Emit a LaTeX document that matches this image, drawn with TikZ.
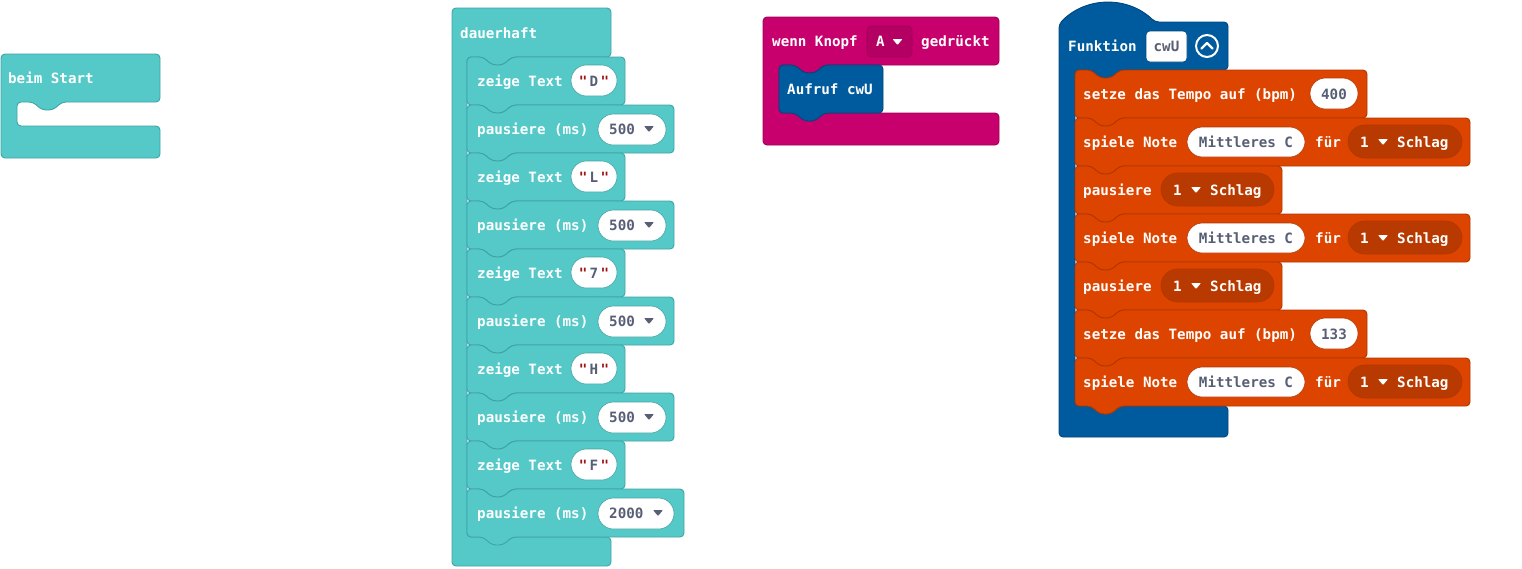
\documentclass[tikz,border=0pt]{standalone}
\usepackage{fontspec}
\newfontfamily\blockfont{DejaVu Sans Mono}

\definecolor{basic}{HTML}{55C8C8}
\definecolor{basicline}{HTML}{3FA4A4}
\definecolor{input}{HTML}{C8006E}
\definecolor{inputline}{HTML}{9E0057}
\definecolor{inputdark}{HTML}{B30062}
\definecolor{func}{HTML}{005A9E}
\definecolor{funcline}{HTML}{00467C}
\definecolor{music}{HTML}{DD4400}
\definecolor{musicline}{HTML}{B23700}
\definecolor{musicdark}{HTML}{B93A00}
\definecolor{fieldtext}{HTML}{575E75}
\definecolor{quotered}{HTML}{A31515}

\tikzset{
  blk/.style={line width=0.9pt, rounded corners=4pt, line join=round},
  basicblk/.style={blk, fill=basic, draw=basicline},
  inputblk/.style={blk, fill=input, draw=inputline},
  funcblk/.style={blk, fill=func, draw=funcline},
  musicblk/.style={blk, fill=music, draw=musicline},
  blkfont/.style={font=\blockfont\bfseries\fontsize{14.2}{16}\selectfont},
  lbl/.style={blkfont, anchor=base west, inner sep=0pt, text=white},
  fld/.style={blkfont, anchor=base, inner sep=0pt, text=fieldtext},
  fldw/.style={blkfont, anchor=base west, inner sep=0pt, text=fieldtext},
  oval/.style={fill=white, draw=#1, line width=0.6pt, rounded corners=15.5pt},
  pill/.style={fill=musicdark, draw=musicline, line width=0.6pt, rounded corners=16.5pt},
  tri/.style={fill=#1, rounded corners=0.8pt},
}

% statement block: top notch, bottom tab
\newcommand\stackblock[5]{%
  \path[#1] (#2,#3) -- ({#2+16},#3) -- ({#2+25},{#3+8}) -- ({#2+36},{#3+8})
    -- ({#2+45},#3) -- ({#2+#4},#3) -- ({#2+#4},{#3+#5}) -- ({#2+45},{#3+#5})
    -- ({#2+36},{#3+#5+8}) -- ({#2+25},{#3+#5+8}) -- ({#2+16},{#3+#5})
    -- (#2,{#3+#5}) -- cycle;}
% small downward dropdown arrow
\newcommand\droparrow[3]{%
  \path[tri=#1] ({#2-5},{#3-3}) -- ({#2+5},{#3-3}) -- (#2,{#3+3}) -- cycle;}

% --- basic blocks inside "dauerhaft"
\newcommand\showtext[3]{%
  \stackblock{basicblk}{467}{#2}{158}{48}
  \node[lbl] (#1-l) at (477,{#2+29.5}) {zeige Text};
  \path[oval=basicline] (571,{#2+8}) rectangle (617,{#2+39});
  \node[fld] (#1-v) at (594,{#2+29.5})
    {\textcolor{quotered}{"}\,#3\,\textcolor{quotered}{"}};}
\newcommand\pausems[6]{%
  \stackblock{basicblk}{467}{#2}{#3}{48}
  \node[lbl] (#1-l) at (477,{#2+29.5}) {pausiere (ms)};
  \path[oval=basicline] (598,{#2+9}) rectangle (#5,{#2+40});
  \node[fldw] (#1-v) at (609,{#2+29.5}) {#4};
  \droparrow{fieldtext}{#6}{#2+24}}

% --- music blocks inside the function
\newcommand\settempo[3]{%
  \stackblock{musicblk}{1075}{#2}{292}{48}
  \node[lbl] (#1-l) at (1083,{#2+29.5}) {setze das Tempo auf (bpm)};
  \path[oval=musicline] (1310,{#2+8}) rectangle (1358,{#2+39});
  \node[fld] (#1-v) at (1334,{#2+29.5}) {#3};}
\newcommand\playnote[2]{%
  \stackblock{musicblk}{1075}{#2}{395}{48}
  \node[lbl] (#1-l) at (1083,{#2+29.5}) {spiele Note};
  \path[oval=musicline] (1187,{#2+9}) rectangle (1305,{#2+39});
  \node[fld] (#1-n) at (1246,{#2+29.5}) {Mittleres C};
  \node[lbl] (#1-f) at (1315,{#2+29.5}) {für};
  \path[pill] (1348,{#2+7}) rectangle (1462,{#2+40});
  \node[lbl] (#1-b) at (1360,{#2+29.5}) {1};
  \droparrow{white}{1383}{#2+24}
  \node[lbl] (#1-s) at (1397,{#2+29.5}) {Schlag};}
\newcommand\restbeat[2]{%
  \stackblock{musicblk}{1075}{#2}{207}{48}
  \node[lbl] (#1-l) at (1083,{#2+29.5}) {pausiere};
  \path[pill] (1161,{#2+7}) rectangle (1274,{#2+40});
  \node[lbl] (#1-b) at (1173,{#2+29.5}) {1};
  \droparrow{white}{1196}{#2+24}
  \node[lbl] (#1-s) at (1210,{#2+29.5}) {Schlag};}

\begin{document}
\begin{tikzpicture}[x=1pt, y=-1pt]
\useasboundingbox (0,0) rectangle (1522,568);

% ===== beim Start =====
\path[basicblk] (1,54) -- (160,54) -- (160,102) -- (62,102) -- (53,110)
  -- (42,110) -- (33,102) -- (17,102) -- (17,126) -- (160,126)
  -- (160,158) -- (1,158) -- cycle;
\node[lbl] (start) at (8,83.5) {beim Start};

% ===== dauerhaft =====
\path[basicblk] (452,8) -- (611,8) -- (611,57) -- (512,57) -- (503,65)
  -- (492,65) -- (483,57) -- (467,57) -- (467,537) -- (611,537)
  -- (611,566) -- (452,566) -- cycle;
\node[lbl] (forever) at (460,38.5) {dauerhaft};
\showtext{s1}{57}{D}
\pausems{p1}{105}{207}{500}{666}{649}
\showtext{s2}{153}{L}
\pausems{p2}{201}{207}{500}{666}{649}
\showtext{s3}{249}{7}
\pausems{p3}{297}{207}{500}{666}{649}
\showtext{s4}{345}{H}
\pausems{p4}{393}{207}{500}{666}{649}
\showtext{s5}{441}{F}
\pausems{p5}{489}{217}{2000}{674}{658}

% ===== wenn Knopf A gedrückt =====
\path[inputblk] (763,17) -- (999,17) -- (999,65) -- (824,65) -- (815,73)
  -- (804,73) -- (795,65) -- (779,65) -- (779,113) -- (999,113)
  -- (999,145) -- (763,145) -- cycle;
\node[lbl] (btn) at (772,46.5) {wenn Knopf};
\path[fill=inputdark, draw=inputline, line width=0.6pt, rounded corners=4pt]
  (867,26) rectangle (912,57);
\node[lbl] (btnA) at (876,46.5) {A};
\droparrow{white}{897.5}{42}
\node[lbl] (pressed) at (921,46.5) {gedrückt};
\stackblock{funcblk}{779}{65}{104}{48}
\node[lbl] (call) at (787,94.5) {Aufruf cwU};

% ===== Funktion cwU =====
\path[funcblk] (1059,24) .. controls (1086,-4) and (1128,-4) .. (1155,22)
  -- (1228,22) -- (1228,70) -- (1120,70) -- (1111,78) -- (1100,78)
  -- (1091,70) -- (1075,70) -- (1075,406) -- (1228,406) -- (1228,437)
  -- (1059,437) -- cycle;
\node[lbl] (fn) at (1068,51.5) {Funktion};
\path[fill=white, draw=funcline, line width=0.6pt, rounded corners=4pt]
  (1146,31) rectangle (1187,62);
\node[fld] (fnname) at (1166.5,51.5) {cwU};
\node[draw=white, line width=2pt, circle, minimum size=22pt, inner sep=0pt]
  (collapse) at (1207,46) {};
\draw[white, line width=2.2pt, line cap=round, line join=round]
  ([xshift=-5.5pt,yshift=-2.5pt]collapse.center) -- ([yshift=3pt]collapse.center)
  -- ([xshift=5.5pt,yshift=-2.5pt]collapse.center);

\settempo{m1}{70}{400}
\playnote{m2}{118}
\restbeat{m3}{166}
\playnote{m4}{214}
\restbeat{m5}{262}
\settempo{m6}{310}{133}
\playnote{m7}{358}
\end{tikzpicture}
\end{document}
